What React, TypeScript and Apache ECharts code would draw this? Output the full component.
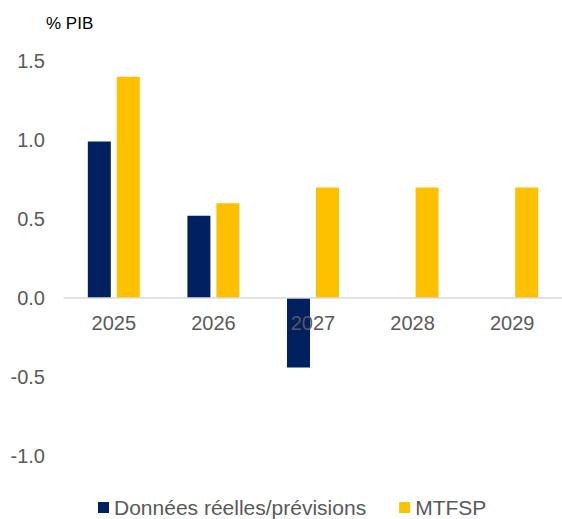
import React, { useEffect, useRef } from "react";
import * as echarts from "echarts";

const categories = ["2025", "2026", "2027", "2028", "2029"];
const actualValues: (number | null)[] = [0.99, 0.52, -0.44, null, null];
const mtfspValues = [1.4, 0.6, 0.7, 0.7, 0.7];
const seriesNames = ["Données réelles/prévisions", "MTFSP"];
const unitLabel = "% PIB";

export default function App() {
  const ref = useRef<HTMLDivElement>(null);
  useEffect(() => {
    const chart = echarts.init(ref.current!, null, { renderer: "svg" });
    const font = "'Liberation Sans', Arial, sans-serif";
    chart.setOption({
      animation: false,
      backgroundColor: "#ffffff",
      textStyle: { fontFamily: font },
      graphic: [
        {
          type: "text",
          left: 46,
          top: 15,
          style: { text: unitLabel, fontSize: 17, fill: "#000000", fontFamily: font },
        },
      ],
      legend: {
        left: 98,
        top: 497,
        padding: 0,
        icon: "rect",
        itemWidth: 11,
        itemHeight: 11,
        itemGap: 33,
        textStyle: { fontSize: 21, color: "#595959", fontFamily: font },
        data: seriesNames,
      },
      grid: { left: 64, top: 61, width: 505, height: 395, containLabel: false },
      xAxis: {
        type: "category",
        data: categories,
        z: 3,
        offset: -158,
        axisLine: { onZero: false, lineStyle: { color: "#D9D9D9", width: 1.5 } },
        axisTick: { show: false },
        axisLabel: { color: "#595959", fontSize: 20, margin: 15, fontFamily: font },
      },
      yAxis: {
        type: "value",
        min: -1,
        max: 1.5,
        interval: 0.5,
        axisLine: { show: false },
        axisTick: { show: false },
        splitLine: { show: false },
        axisLabel: {
          color: "#595959",
          fontSize: 20,
          margin: 19,
          fontFamily: font,
          formatter: (v: number) => v.toFixed(1),
        },
      },
      series: [
        {
          name: seriesNames[0],
          type: "bar",
          data: actualValues,
          barWidth: 23,
          barGap: "26%",
          itemStyle: { color: "#002060" },
        },
        {
          name: seriesNames[1],
          type: "bar",
          data: mtfspValues,
          barWidth: 23,
          itemStyle: { color: "#FFC000" },
        },
      ],
    });
    return () => chart.dispose();
  }, []);
  return (
    <div
      ref={ref}
      style={{ position: "absolute", left: 0, top: 0, width: 562, height: 519 }}
    />
  );
}
